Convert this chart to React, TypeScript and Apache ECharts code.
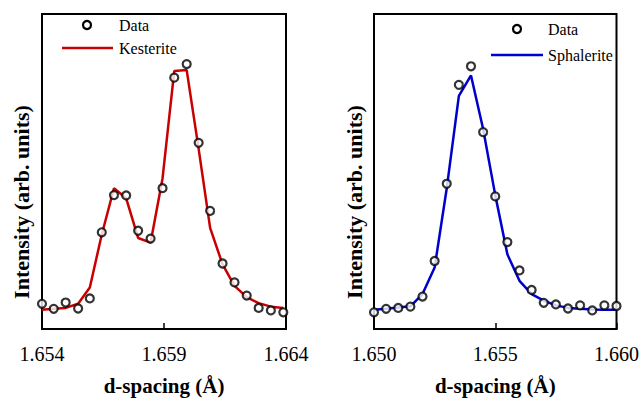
import React, { useEffect, useRef } from "react";
import * as echarts from "echarts";

// Kesterite panel (left)
const kesD = [1.654, 1.65448, 1.65497, 1.65548, 1.65596, 1.65645, 1.65695, 1.65745, 1.65794, 1.65845, 1.65894, 1.65942, 1.65993, 1.66042, 1.66089, 1.6614, 1.66189, 1.66239, 1.66288, 1.66338, 1.66389];
const kesData = [8.0, 6.4, 8.4, 6.5, 9.7, 30.7, 42.5, 42.4, 31.2, 28.7, 44.7, 79.8, 84.1, 59.1, 37.5, 20.8, 14.8, 10.6, 6.7, 5.9, 5.3];
const kesFit = [6.1, 6.4, 6.7, 8.0, 13.2, 30.0, 44.7, 41.5, 28.9, 27.4, 47.8, 81.9, 82.2, 57.2, 32.1, 20.5, 13.7, 10.1, 8.2, 7.1, 6.7];
const kesTicks = [1.654, 1.659, 1.664];

// Sphalerite panel (right)
const sphD = [1.65, 1.6505, 1.651, 1.6515, 1.652, 1.6525, 1.653, 1.6535, 1.654, 1.6545, 1.655, 1.6555, 1.656, 1.6565, 1.657, 1.6575, 1.658, 1.6585, 1.659, 1.6595, 1.66];
const sphData = [5.3, 6.4, 6.7, 7.1, 10.3, 21.6, 46.1, 77.5, 83.4, 62.5, 42.1, 27.6, 18.6, 12.4, 8.3, 7.8, 6.5, 7.5, 5.9, 7.5, 7.3];
const sphFit = [6.1, 6.4, 6.8, 7.2, 11.1, 19.5, 44.7, 74.0, 80.5, 63.5, 42.5, 23.7, 15.3, 11.1, 9.0, 7.5, 6.7, 6.4, 6.2, 6.1, 6.1];
const sphTicks = [1.65, 1.655, 1.66];

const seriesNames = ["Data", "Kesterite", "Sphalerite"];
const xName = "d-spacing (Å)";
const yName = "Intensity (arb. units)";

const FONT = "'Liberation Serif', 'Times New Roman', serif";
const RED = "#c80000";
const BLUE = "#0000cc";

function xAxisCfg(gridIndex: number, min: number, max: number, ticks: number[]) {
  return {
    type: "value",
    gridIndex,
    min,
    max,
    name: xName,
    nameLocation: "middle",
    nameGap: 46,
    nameTextStyle: { fontFamily: FONT, fontSize: 21, fontWeight: "bold", color: "#000" },
    axisLine: { show: true, onZero: false, lineStyle: { color: "#000", width: 2 } },
    axisTick: { show: true, inside: true, length: 6, customValues: ticks, lineStyle: { color: "#000", width: 1.5 } },
    axisLabel: {
      customValues: ticks,
      formatter: (v: number) => v.toFixed(3),
      fontFamily: FONT,
      fontSize: 20,
      color: "#000",
      margin: 15,
      showMinLabel: true,
      showMaxLabel: true,
    },
    splitLine: { show: false },
  };
}

function yAxisCfg(gridIndex: number) {
  return {
    type: "value",
    gridIndex,
    min: 0,
    max: 100,
    axisLine: { show: false },
    axisTick: { show: false },
    axisLabel: { show: false },
    splitLine: { show: false },
  };
}

function legend(cx: number, lineX0: number, lineX1: number, textX: number, y0: number, y1: number, color: string, name: string) {
  return [
    { type: "circle", shape: { cx, cy: y0, r: 4 }, style: { fill: "#fff", stroke: "#000", lineWidth: 2.2 } },
    { type: "text", x: textX, y: y0, style: { text: seriesNames[0], font: `16px ${FONT}`, fill: "#000", verticalAlign: "middle" } },
    { type: "line", shape: { x1: lineX0, y1: y1, x2: lineX1, y2: y1 }, style: { stroke: color, lineWidth: 2.5 } },
    { type: "text", x: textX, y: y1, style: { text: name, font: `16px ${FONT}`, fill: "#000", verticalAlign: "middle" } },
  ];
}

export default function App() {
  const ref = useRef<HTMLDivElement>(null);
  useEffect(() => {
    if (!ref.current) return;
    const chart = echarts.init(ref.current, null, { renderer: "svg" });
    const scatterStyle = { color: "#fff", borderColor: "#000", borderWidth: 2.2 };
    chart.setOption({
      animation: false,
      backgroundColor: "#fff",
      grid: [
        { left: 42, top: 14, width: 244, height: 318, show: true, borderColor: "#000", borderWidth: 2, backgroundColor: "transparent" },
        { left: 374, top: 14, width: 243, height: 318, show: true, borderColor: "#000", borderWidth: 2, backgroundColor: "transparent" },
      ],
      xAxis: [xAxisCfg(0, 1.654, 1.664, kesTicks), xAxisCfg(1, 1.65, 1.66, sphTicks)],
      yAxis: [yAxisCfg(0), yAxisCfg(1)],
      series: [
        {
          type: "line", name: seriesNames[1], xAxisIndex: 0, yAxisIndex: 0,
          data: kesD.map((d, i) => [d, kesFit[i]]),
          showSymbol: false, symbol: "none", clip: false,
          lineStyle: { color: RED, width: 2.5 },
        },
        {
          type: "scatter", name: seriesNames[0], xAxisIndex: 0, yAxisIndex: 0,
          data: kesD.map((d, i) => [d, kesData[i]]),
          symbol: "circle", symbolSize: 8, clip: false, itemStyle: scatterStyle, z: 5,
        },
        {
          type: "line", name: seriesNames[2], xAxisIndex: 1, yAxisIndex: 1,
          data: sphD.map((d, i) => [d, sphFit[i]]),
          showSymbol: false, symbol: "none", clip: false,
          lineStyle: { color: BLUE, width: 2.5 },
        },
        {
          type: "scatter", name: seriesNames[0], xAxisIndex: 1, yAxisIndex: 1,
          data: sphD.map((d, i) => [d, sphData[i]]),
          symbol: "circle", symbolSize: 8, clip: false, itemStyle: scatterStyle, z: 5,
        },
      ],
      graphic: [
        ...legend(87, 62, 113, 119, 25, 48, RED, seriesNames[1]),
        ...legend(517, 491, 543, 548, 29, 55, BLUE, seriesNames[2]),
        {
          type: "text", x: 21, y: 202, rotation: Math.PI / 2,
          style: { text: yName, font: `bold 22px ${FONT}`, fill: "#000", align: "center", verticalAlign: "middle" },
        },
        {
          type: "text", x: 354, y: 202, rotation: Math.PI / 2,
          style: { text: yName, font: `bold 22px ${FONT}`, fill: "#000", align: "center", verticalAlign: "middle" },
        },
      ],
    });
    return () => chart.dispose();
  }, []);
  return <div ref={ref} style={{ position: "fixed", left: 0, top: 0, width: 642, height: 401 }} />;
}
